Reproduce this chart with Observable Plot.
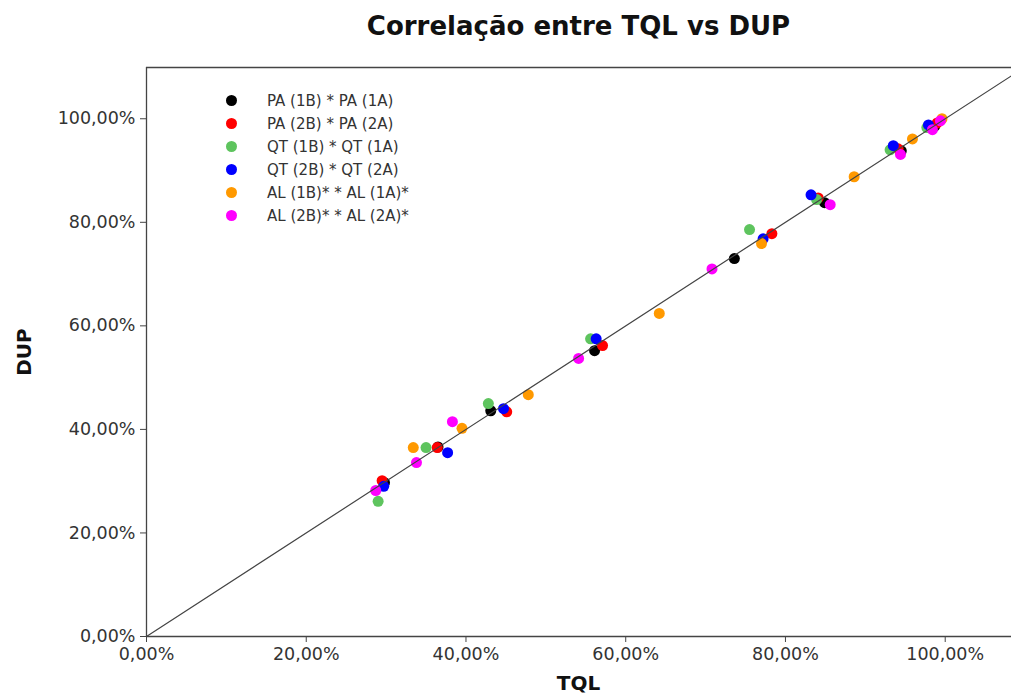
<!DOCTYPE html>
<html>
<head>
<meta charset="utf-8">
<script src="https://cdn.jsdelivr.net/npm/d3@7"></script>
<script src="https://cdn.jsdelivr.net/npm/@observablehq/plot@0.6"></script>
<style>
  body { margin: 0; background: #fff; font-family: "DejaVu Sans", Verdana, sans-serif; }
  #wrap { position: relative; width: 1011px; height: 700px; overflow: hidden; }
  #title { position: absolute; left: 146px; width: 865px; top: 11px; text-align: center; font-weight: bold; font-size: 26px; color: #111; }
  #xlabel { position: absolute; left: 146px; width: 865px; top: 671px; text-align: center; font-weight: bold; font-size: 20px; color: #111; }
  #ylabel { position: absolute; left: 24px; top: 352px; transform: translate(-50%, -50%) rotate(-90deg); font-weight: bold; font-size: 20px; color: #111; }
  #legend { position: absolute; left: 226px; top: 89px; font-size: 15px; color: #333; }
  .row { height: 23px; display: flex; align-items: center; }
  .sw { width: 11px; height: 11px; border-radius: 50%; margin-right: 30px; }
</style>
</head>
<body>
<div id="wrap">
  <div id="chart"></div>
  <div id="title">Correlação entre TQL vs DUP</div>
  <div id="xlabel">TQL</div>
  <div id="ylabel">DUP</div>
  <div id="legend"></div>
</div>
<script>
const seriesNames = ["PA (1B) * PA (1A)", "PA (2B) * PA (2A)", "QT (1B) * QT (1A)", "QT (2B) * QT (2A)", "AL (1B)* * AL (1A)*", "AL (2B)* * AL (2A)*"];
const seriesColors = ["#000000", "#ff0000", "#5ec45e", "#0000ff", "#ff9900", "#ff00ff"];

// TQL (x) and DUP (y) values in percent, per series
const tqlPA1 = [29.8, 36.5, 43.1, 56.1, 73.6, 84.9, 94.5, 98.7];
const dupPA1 = [29.7, 36.6, 43.6, 55.2, 73.0, 83.8, 93.8, 98.6];
const tqlPA2 = [29.5, 36.4, 45.1, 57.1, 78.3, 84.1, 94.1, 99.0];
const dupPA2 = [30.1, 36.5, 43.4, 56.2, 77.8, 84.7, 94.2, 99.2];
const tqlQT1 = [29.0, 35.0, 42.8, 55.6, 75.5, 83.9, 93.1, 97.7];
const dupQT1 = [26.1, 36.5, 45.0, 57.5, 78.6, 84.4, 94.0, 98.3];
const tqlQT2 = [29.7, 37.7, 44.7, 56.3, 77.2, 83.2, 93.5, 97.9];
const dupQT2 = [29.0, 35.5, 44.0, 57.5, 76.8, 85.3, 94.8, 98.8];
const tqlAL1 = [33.4, 39.5, 47.8, 64.2, 77.0, 88.6, 95.9, 99.6];
const dupAL1 = [36.5, 40.2, 46.7, 62.4, 75.9, 88.8, 96.1, 100.0];
const tqlAL2 = [28.7, 33.8, 38.3, 54.1, 70.8, 85.6, 94.4, 98.4, 99.4];
const dupAL2 = [28.2, 33.6, 41.5, 53.7, 71.0, 83.4, 93.1, 97.9, 99.6];

const tickValues = [0, 20, 40, 60, 80, 100];
const xDomain = [0, 108.3];
const yDomain = [0, 109.9];
const diagonal = [0, 108.3];

const seriesX = [tqlPA1, tqlPA2, tqlQT1, tqlQT2, tqlAL1, tqlAL2];
const seriesY = [dupPA1, dupPA2, dupQT1, dupQT2, dupAL1, dupAL2];
const points = [];
seriesNames.forEach((name, i) => {
  seriesX[i].forEach((x, j) => points.push({series: name, tql: x, dup: seriesY[i][j]}));
});
const diagData = diagonal.map(v => ({x: v, y: v}));

const fmt = d => d.toFixed(2).replace(".", ",") + "%";

const chart = Plot.plot({
  width: 1011,
  height: 700,
  marginLeft: 146,
  marginRight: 0,
  marginTop: 67,
  marginBottom: 64,
  style: { fontFamily: "DejaVu Sans, Verdana, sans-serif", fontSize: "17.5px", color: "#333", background: "transparent" },
  x: { domain: xDomain },
  y: { domain: yDomain },
  color: { domain: seriesNames, range: seriesColors },
  marks: [
    Plot.axisX({ ticks: tickValues, tickFormat: fmt, tickSize: 6, tickPadding: 5, label: null, fontSize: 17.5, stroke: "#444" }),
    Plot.axisY({ ticks: tickValues, tickFormat: fmt, tickSize: 6, tickPadding: 5, label: null, fontSize: 17.5, stroke: "#444" }),
    Plot.ruleX([xDomain[0]], { stroke: "#444", strokeWidth: 1.3 }),
    Plot.ruleY([yDomain[0]], { stroke: "#444", strokeWidth: 1.3 }),
    Plot.ruleY([yDomain[1]], { stroke: "#444", strokeWidth: 1.3 }),
    Plot.dot(points, { x: "tql", y: "dup", fill: "series", r: 5.5 }),
    Plot.line(diagData, { x: "x", y: "y", stroke: "#444", strokeWidth: 1.2 })
  ]
});
document.getElementById("chart").appendChild(chart);

const legend = document.getElementById("legend");
seriesNames.forEach((name, i) => {
  const row = document.createElement("div");
  row.className = "row";
  const sw = document.createElement("span");
  sw.className = "sw";
  sw.style.background = seriesColors[i];
  const t = document.createElement("span");
  t.textContent = name;
  row.appendChild(sw);
  row.appendChild(t);
  legend.appendChild(row);
});
</script>
</body>
</html>
